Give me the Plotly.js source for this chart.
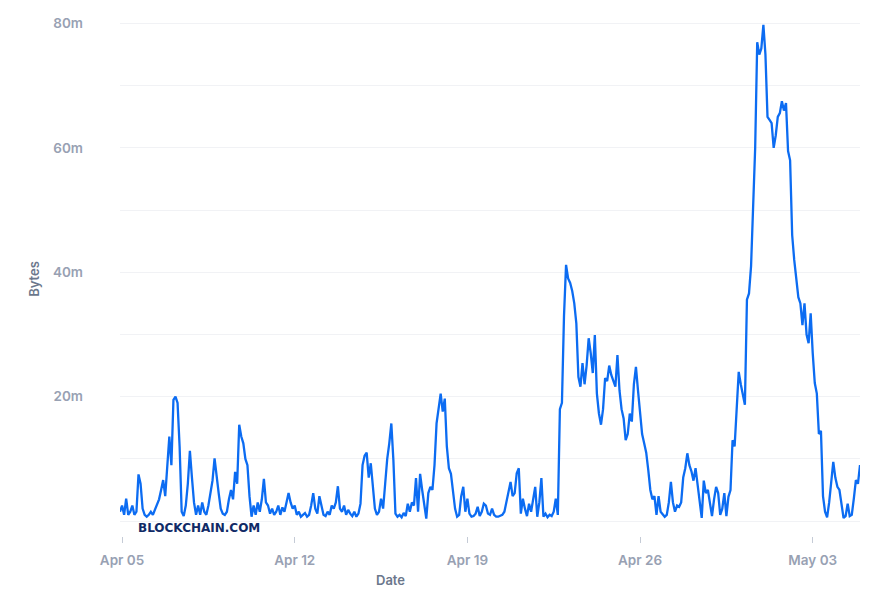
<!DOCTYPE html>
<html>
<head>
<meta charset="utf-8">
<script src="https://cdn.plot.ly/plotly-3.0.1.min.js"></script>
<style>
  html, body { margin: 0; padding: 0; background: #fff; }
  #myDiv { width: 886px; height: 598px; }
</style>
</head>
<body>
<div id="myDiv"></div>
<script>
// mempool size, sampled every 2 hours from Apr 04 22:00
var startTime = '2023-04-04T22:00:00';
var stepHours = 2;

// values in millions of bytes, one row per ~day and a half
var mempoolMb = [
  1.5, 2.5, 1, 3.6, 1, 1.5, 2.5, 1, 1.5, 7.5, 6, 2, 1, 0.7, 1, 1.5, 1, 1.8,
  2.5, 3.5, 5, 6.6, 4, 9, 13.6, 9, 19.5, 20, 19, 12, 1.5, 0.8, 2.5, 6, 11.3, 7,
  3, 1, 2.5, 1, 3, 1.5, 1, 2.5, 4.5, 6.5, 10.1, 7, 4.5, 2, 1.2, 1, 1.5, 3.5,
  5, 3.5, 7.9, 6, 15.5, 13.6, 12.5, 10, 9, 4, 0.7, 2.5, 1, 3, 1.5, 3.5, 6.8, 3,
  2.5, 1.2, 2, 1, 1.5, 2.5, 1, 2.2, 1.5, 3, 4.5, 3,
  2, 2.5, 1, 1.5, 0.7, 1, 1.3, 0.7, 1, 2.5, 4.5, 2, 1.2, 4, 2.5, 1, 0.8, 1.5,
  1, 2.5, 2, 3, 5.6, 2, 1.5, 2.5, 1, 1.8, 1.2, 0.8, 1.5, 0.7, 1.2, 2.8, 9, 10.5,
  11, 7, 9.3, 5, 2, 1, 1.5, 3.6, 2, 6, 10, 12.5, 15.7, 9.8, 1.2, 0.7, 1, 0.6,
  1.3, 0.8, 2.8, 1.5, 3, 2.5, 6.9, 1.5, 7.6, 5, 3, 0.4, 4.5, 5.5, 5, 9, 15.7, 18,
  20.5, 17.6, 19.7, 12, 8.5, 7.6, 5, 2, 0.7, 1,
  4, 5.5, 1.5, 3.6, 1.2, 0.7, 0.8, 1.2, 2.3, 0.8, 1.5, 2.8, 2.5, 1.2, 1, 2, 1, 0.7,
  0.7, 0.8, 1, 1.5, 3, 4.5, 6.3, 4, 4.5, 7.7, 8.5, 1.2, 3.6, 2, 0.8, 2.8, 1.5, 3.5,
  5.5, 0.7, 3, 6.9, 0.7, 1.2, 0.6, 1, 0.8, 1.5, 3.6, 1, 18, 19, 33, 41.2, 39, 38.3,
  37, 35, 31.8, 23.2, 21.6, 25.4, 22, 25, 29.4, 27, 23.8, 29.9, 20.5, 17.3, 15.5, 18, 23, 22.5,
  25, 23.5, 22.5, 21.6, 26.7, 21, 18, 16.5, 13, 14, 17.3, 16, 22, 24.8, 21, 18, 14, 12.5,
  11, 8.2, 5, 3.5, 4, 1, 4, 1.5,
  1, 0.7, 1, 3, 6.3, 3, 1.5, 2.5, 2.3, 3, 7, 8.5, 10.9, 9, 8, 6.5, 8.5, 6,
  3, 0.5, 6.5, 4.5, 5, 2.5, 0.8, 3.5, 5.5, 4.5, 1, 2, 4.5, 0.8, 3.9, 5, 13, 12,
  17.9, 24, 22, 20, 18.7, 35.6, 36.6, 41, 52, 60, 77, 75, 76, 79.8, 75, 65, 64.5, 64,
  60, 62, 65, 65.6, 67.5, 66, 67.2, 59.5, 58, 46, 42, 38.8, 36, 35, 31.5, 35, 30, 28.6,
  33.4, 27, 22.2, 20.5, 14, 14.5, 4, 1.5, 0.6, 3, 6.6, 9.5, 7, 5.5, 5, 2.8, 0.5, 0.8,
  2.8, 0.8, 1, 3.6, 6.6, 6, 9
];

var yTickVals = [0, 10, 20, 30, 40, 50, 60, 70, 80];
var yTickText = ['', '', '20m', '', '40m', '', '60m', '', '80m'];

var times = [];
var t0 = new Date(startTime + 'Z').getTime();
for (var i = 0; i < mempoolMb.length; i++) {
  var d = new Date(t0 + i * stepHours * 3600 * 1000);
  times.push(d.toISOString().slice(0, 19).replace('T', ' '));
}

var trace = {
  x: times,
  y: mempoolMb,
  type: 'scatter',
  mode: 'lines',
  line: {color: '#0c6cf2', width: 2.3},
  hoverinfo: 'x+y'
};

var layout = {
  width: 886,
  height: 598,
  margin: {l: 120, r: 26, t: 22, b: 62},
  paper_bgcolor: '#ffffff',
  plot_bgcolor: '#ffffff',
  showlegend: false,
  font: {family: 'Inter, "Noto Sans", sans-serif', color: '#98a1b3', size: 13},
  xaxis: {
    type: 'date',
    range: [times[0], times[times.length - 1]],
    tick0: '2023-04-05',
    dtick: 7 * 24 * 3600 * 1000,
    tickformat: '%b %d',
    showgrid: false,
    zeroline: false,
    showline: false,
    ticks: 'outside',
    ticklen: 6,
    tickwidth: 1,
    tickcolor: '#c5cbd6',
    ticklabelstandoff: 6,
    tickfont: {size: 13.5, weight: 600, color: '#98a1b3'}
  },
  yaxis: {
    range: [-2.4, 80.25],
    tickvals: yTickVals,
    ticktext: yTickText,
    showgrid: true,
    gridcolor: '#f1f2f5',
    gridwidth: 1,
    zeroline: false,
    showline: false,
    ticks: '',
    ticklabelstandoff: 36,
    tickfont: {size: 13.5, weight: 600, color: '#98a1b3'},
    title: {text: 'Bytes', standoff: 10, font: {size: 13, weight: 600, color: '#6b778c'}}
  },
  annotations: [
    {
      text: 'Date',
      xref: 'paper', yref: 'paper',
      x: 0.365, y: -0.085,
      xanchor: 'center', yanchor: 'middle',
      showarrow: false,
      font: {size: 13, weight: 600, color: '#6b778c'}
    },
    {
      text: 'BLOCKCHAIN.COM',
      xref: 'paper', yref: 'paper',
      x: 0.022, y: 0.015,
      xanchor: 'left', yanchor: 'middle',
      showarrow: false,
      font: {family: '"DejaVu Sans", sans-serif', size: 12, weight: 700, color: '#102a66'}
    }
  ]
};

Plotly.newPlot('myDiv', [trace], layout, {displayModeBar: false});
</script>
</body>
</html>
